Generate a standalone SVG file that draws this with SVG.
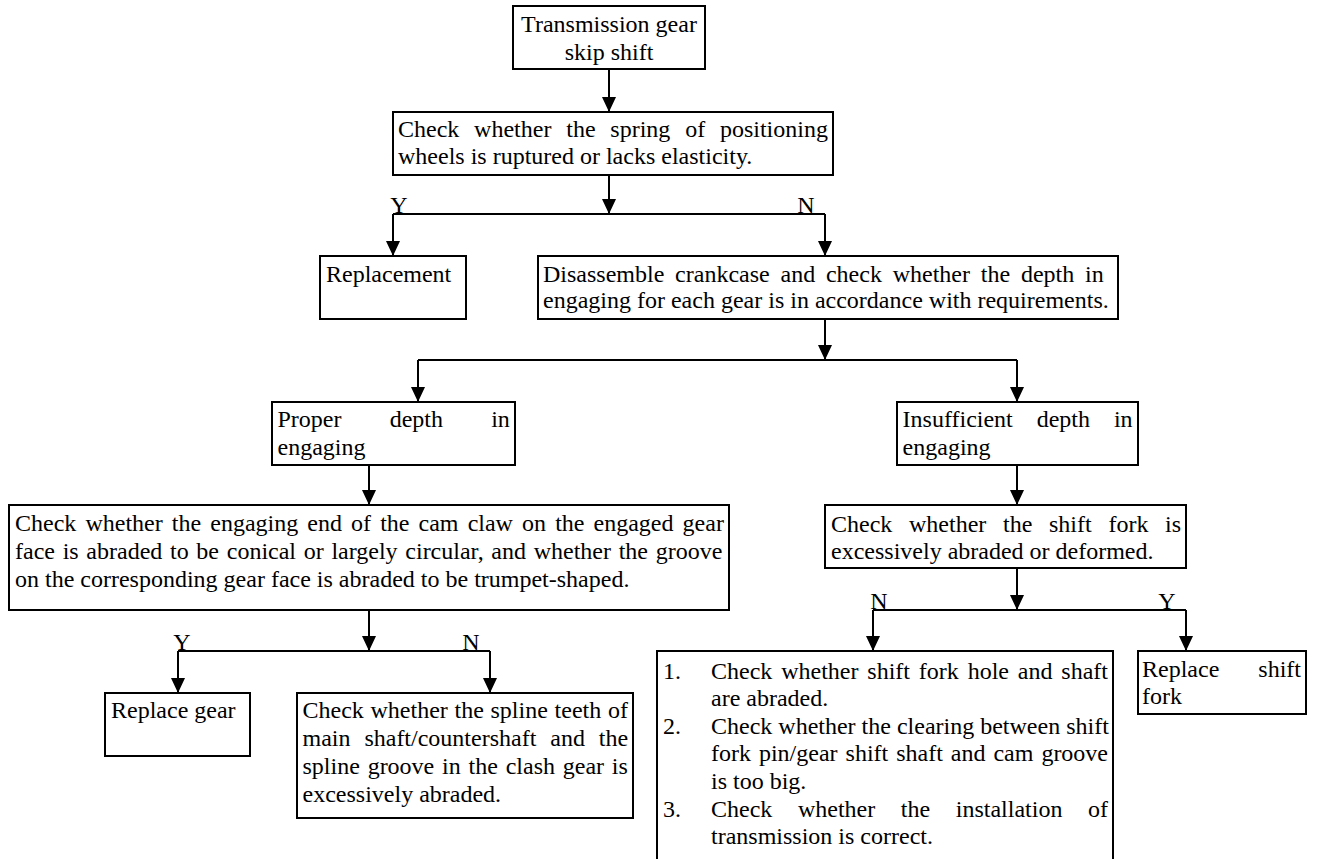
<svg xmlns="http://www.w3.org/2000/svg" width="1317" height="859" viewBox="0 0 1317 859">
<defs>
<marker id="ah" viewBox="0 0 15 14" refX="15" refY="7" markerWidth="15" markerHeight="14" markerUnits="userSpaceOnUse" orient="auto"><path d="M0,0 L15,7 L0,14 z" fill="#000"/></marker>
<style>
.box{fill:#fff;stroke:#000;stroke-width:2}
.t{font-family:"Liberation Serif","Times New Roman",serif;font-size:24px;fill:#000}
.c{text-anchor:middle}
.edge{fill:none;stroke:#000;stroke-width:2}
.arr{marker-end:url(#ah)}
</style>
</defs>
<rect width="1317" height="859" fill="#fff"/>
<g id="connectors">
<path class="edge arr" d="M609,69 V112"/>
<path class="edge arr" d="M609,175 V214"/>
<path class="edge" d="M393,214 H825"/>
<path class="edge arr" d="M393,214 V256"/>
<path class="edge arr" d="M825,214 V256"/>
<path class="edge arr" d="M825,319 V360"/>
<path class="edge" d="M418,360 H1017"/>
<path class="edge arr" d="M418,360 V402"/>
<path class="edge arr" d="M1017,360 V402"/>
<path class="edge arr" d="M369,465 V505"/>
<path class="edge arr" d="M1017,465 V505"/>
<path class="edge arr" d="M369,610 V651"/>
<path class="edge" d="M178,651 H490"/>
<path class="edge arr" d="M178,651 V693"/>
<path class="edge arr" d="M490,651 V693"/>
<path class="edge arr" d="M1017,568 V610"/>
<path class="edge" d="M873,610 H1186"/>
<path class="edge arr" d="M873,610 V651"/>
<path class="edge arr" d="M1186,610 V651"/>
<text class="t c" x="399" y="213">Y</text>
<text class="t c" x="806" y="213">N</text>
<text class="t c" x="182" y="650">Y</text>
<text class="t c" x="471" y="650">N</text>
<text class="t c" x="879" y="609">N</text>
<text class="t c" x="1167" y="609">Y</text>
</g>
<g id="n1">
<rect class="box" x="513" y="6" width="192" height="63"/>
<text class="t c" x="609" y="32">Transmission gear</text>
<text class="t c" x="609" y="60">skip shift</text>
</g>
<g id="n2">
<rect class="box" x="393" y="112" width="440" height="63"/>
<text class="t" x="398" y="137" style="word-spacing:8.8px">Check whether the spring of positioning</text>
<text class="t" x="398" y="164">wheels is ruptured or lacks elasticity.</text>
</g>
<g id="n3">
<rect class="box" x="320" y="256" width="146" height="63"/>
<text class="t" x="326" y="282">Replacement</text>
</g>
<g id="n4">
<rect class="box" x="538" y="256" width="580" height="63"/>
<text class="t" x="543" y="282" style="word-spacing:4.8px">Disassemble crankcase and check whether the depth in</text>
<text class="t" x="543" y="308">engaging for each gear is in accordance with requirements.</text>
</g>
<g id="n5">
<rect class="box" x="272" y="402" width="243" height="63"/>
<text class="t" x="277.5" y="427" style="word-spacing:42.2px">Proper depth in</text>
<text class="t" x="277.5" y="455">engaging</text>
</g>
<g id="n6">
<rect class="box" x="897" y="402" width="241" height="63"/>
<text class="t" x="902.6" y="427" style="word-spacing:17.9px">Insufficient depth in</text>
<text class="t" x="902.6" y="455">engaging</text>
</g>
<g id="n7">
<rect class="box" x="9" y="505" width="720" height="105"/>
<text class="t" x="15" y="531" style="word-spacing:3.1px">Check whether the engaging end of the cam claw on the engaged gear</text>
<text class="t" x="15" y="559" style="word-spacing:1.7px">face is abraded to be conical or largely circular, and whether the groove</text>
<text class="t" x="15" y="587">on the corresponding gear face is abraded to be trumpet-shaped.</text>
</g>
<g id="n8">
<rect class="box" x="825" y="505" width="361" height="63"/>
<text class="t" x="831" y="532" style="word-spacing:10.7px">Check whether the shift fork is</text>
<text class="t" x="831" y="559">excessively abraded or deformed.</text>
</g>
<g id="n9">
<rect class="box" x="105" y="693" width="145" height="63"/>
<text class="t" x="111" y="718">Replace gear</text>
</g>
<g id="n10">
<rect class="box" x="297" y="693" width="336" height="125"/>
<text class="t" x="302.5" y="718" style="word-spacing:0.7px">Check whether the spline teeth of</text>
<text class="t" x="302.5" y="746" style="word-spacing:7.9px">main shaft/countershaft and the</text>
<text class="t" x="302.5" y="774" style="word-spacing:1.8px">spline groove in the clash gear is</text>
<text class="t" x="302.5" y="802">excessively abraded.</text>
</g>
<g id="n11">
<path class="box" d="M657,870 V651 H1113 V870"/>
<text class="t" x="663" y="679">1.</text>
<text class="t" x="711" y="679" style="word-spacing:2.85px">Check whether shift fork hole and shaft</text>
<text class="t" x="711" y="706">are abraded.</text>
<text class="t" x="663" y="734">2.</text>
<text class="t" x="711" y="734">Check whether the clearing between shift</text>
<text class="t" x="711" y="761" style="word-spacing:1.97px">fork pin/gear shift shaft and cam groove</text>
<text class="t" x="711" y="789">is too big.</text>
<text class="t" x="663" y="817">3.</text>
<text class="t" x="711" y="817" style="word-spacing:19.6px">Check whether the installation of</text>
<text class="t" x="711" y="844">transmission is correct.</text>
</g>
<g id="n12">
<rect class="box" x="1138" y="651" width="168" height="63"/>
<text class="t" x="1142" y="677" style="word-spacing:33px">Replace shift</text>
<text class="t" x="1142" y="704">fork</text>
</g>
</svg>
